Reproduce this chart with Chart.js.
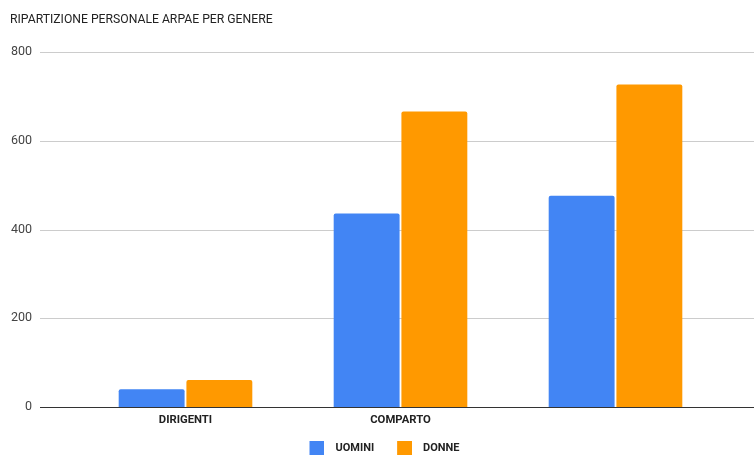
<!DOCTYPE html>
<html lang="it">
<head>
<meta charset="utf-8">
<title>Ripartizione personale ARPAE per genere</title>
<script src="https://cdn.jsdelivr.net/npm/chart.js@4.4.1/dist/chart.umd.min.js"></script>
<style>
  html, body { margin: 0; padding: 0; background: #fff; }
</style>
</head>
<body>
<canvas id="genderChart" width="754" height="456"></canvas>
<script>
  // il terzo gruppo (totale) non ha etichetta sull'asse
  const CATEGORIES = ['DIRIGENTI', 'COMPARTO', ''];
  const UOMINI = [40, 436, 476];
  const DONNE = [61, 666, 727];
  const Y_TICKS = [0, 200, 400, 600, 800];

  const FONT = 'Roboto, Arial, sans-serif';
  const COLORS = ['#4285f4', '#ff9900'];

  // quadratino della legenda con un margine trasparente a sinistra
  function makeSwatch(color) {
    const c = document.createElement('canvas');
    c.width = 23;
    c.height = 14;
    const g = c.getContext('2d');
    g.fillStyle = color;
    g.fillRect(8, 0, 15, 14);
    return c;
  }
  const swatches = COLORS.map(makeSwatch);

  // righe orizzontali della griglia, più lunghe dell'area del grafico
  const gridLines = {
    id: 'gridLines',
    afterLayout(chart) {
      // legenda centrata sotto le barre
      chart.legend.left += 11.25;
      chart.legend.right += 11.25;
    },
    beforeDatasetsDraw(chart) {
      const { ctx, scales: { y }, width } = chart;
      ctx.save();
      ctx.strokeStyle = '#cccccc';
      ctx.lineWidth = 1;
      Y_TICKS.filter((v) => v !== 0).forEach((v) => {
        const py = Math.round(y.getPixelForValue(v)) + 0.5;
        ctx.beginPath();
        ctx.moveTo(40, py);
        ctx.lineTo(width, py);
        ctx.stroke();
      });
      ctx.restore();
    },
    afterDatasetsDraw(chart) {
      const { ctx, scales: { y }, width } = chart;
      const py = Math.round(y.getPixelForValue(0)) + 0.5;
      ctx.save();
      ctx.strokeStyle = '#333333';
      ctx.lineWidth = 1;
      ctx.beginPath();
      ctx.moveTo(40, py);
      ctx.lineTo(width, py);
      ctx.stroke();
      ctx.restore();
    }
  };

  const barStyle = {
    borderRadius: { topLeft: 2, topRight: 2 },
    borderSkipped: 'start',
    categoryPercentage: 0.63,
    barPercentage: 0.973
  };

  new Chart(document.getElementById('genderChart'), {
    type: 'bar',
    data: {
      labels: CATEGORIES,
      datasets: [
        { label: 'UOMINI', data: UOMINI, backgroundColor: COLORS[0], ...barStyle },
        { label: 'DONNE', data: DONNE, backgroundColor: COLORS[1], ...barStyle }
      ]
    },
    options: {
      responsive: false,
      animation: false,
      layout: { padding: { top: 0, left: 10, right: 31, bottom: -7.5 } },
      plugins: {
        title: {
          display: true,
          align: 'start',
          text: 'RIPARTIZIONE PERSONALE ARPAE PER GENERE',
          color: '#222',
          font: { family: FONT, size: 12.2, weight: 'normal' },
          padding: { top: 12.7, bottom: 24.66 }
        },
        tooltip: { enabled: false },
        legend: {
          position: 'bottom',
          labels: {
            usePointStyle: true,
            pointStyleWidth: 34,
            padding: 9.5,
            color: '#222',
            font: { family: FONT, size: 11, weight: 'bold' },
            generateLabels(chart) {
              return Chart.defaults.plugins.legend.labels.generateLabels(chart)
                .map((item, i) => ({ ...item, pointStyle: swatches[i] }));
            }
          }
        }
      },
      scales: {
        x: {
          grid: { display: false, drawTicks: false },
          border: { display: false },
          ticks: {
            padding: 6.22,
            color: '#222',
            font: { family: FONT, size: 11.3, weight: 'bold' }
          }
        },
        // asse delle barre: solo spazio vuoto tra etichette e area del grafico
        y: {
          min: 0,
          max: 800,
          weight: 0,
          grid: { display: false, drawTicks: false },
          border: { display: false },
          ticks: { display: false },
          afterFit(scale) { scale.width = 46; }
        },
        // etichette numeriche a sinistra
        yLabels: {
          type: 'linear',
          position: 'left',
          min: 0,
          max: 800,
          weight: 1,
          grid: { display: false, drawTicks: false },
          border: { display: false },
          afterFit(scale) { scale.width = 22; },
          afterBuildTicks(scale) { scale.ticks = Y_TICKS.map((v) => ({ value: v })); },
          ticks: {
            padding: 0,
            color: '#444',
            font: { family: FONT, size: 12.5 }
          }
        }
      }
    },
    plugins: [gridLines]
  });
</script>
</body>
</html>
